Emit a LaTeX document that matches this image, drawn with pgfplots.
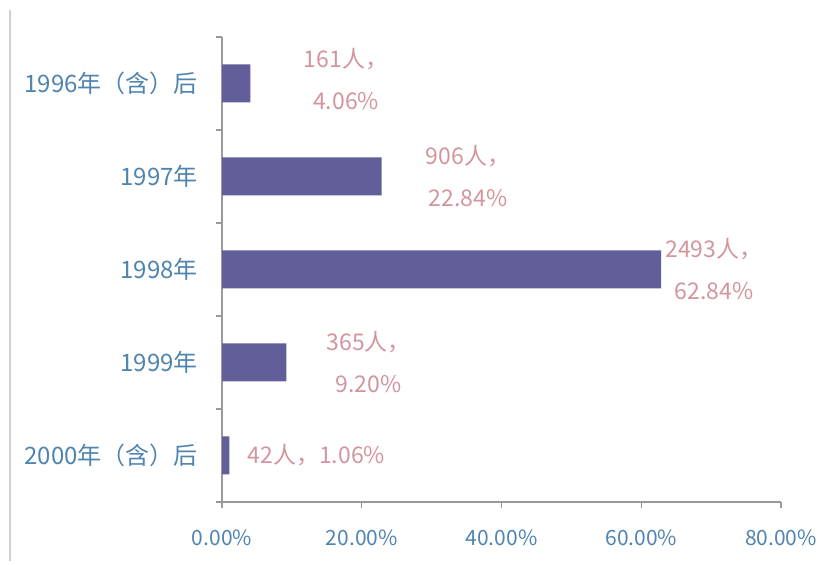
\documentclass[border=0pt]{standalone}
\usepackage{pgfplots}
\pgfplotsset{compat=1.18}
\usepackage{fontspec}
\setmainfont{Noto Sans CJK SC}
\definecolor{barc}{HTML}{615E9A}
\definecolor{labc}{HTML}{D2959D}
\definecolor{tickc}{HTML}{4F84B0}
\definecolor{axc}{HTML}{9A9A9A}
\begin{document}
\begin{tikzpicture}
\path[use as bounding box] (0,0) rectangle (411pt,282.5pt);
\draw[color=black!18, line width=0.8pt] (5pt,2pt) -- (5pt,277.5pt);
\begin{axis}[
  at={(111pt,31.5pt)}, anchor=south west,
  scale only axis, width=279.5pt, height=232.5pt,
  xmin=0, xmax=80, ymin=-0.5, ymax=4.5,
  axis lines*=left,
  axis line style={draw=axc, line width=0.6pt, -},
  tick align=outside,
  xtick={0,20,40,60,80},
  xticklabels={0.00\%,20.00\%,40.00\%,60.00\%,80.00\%},
  major tick length=3pt,
  tick style={draw=axc, line width=0.6pt},
  xticklabel style={font=\fontsize{10.5}{12}\selectfont, text=tickc, yshift=-7.5pt},
  ytick={-0.5,0.5,1.5,2.5,3.5,4.5},
  yticklabels={},
  extra y ticks={0,1,2,3,4},
  extra y tick labels={2000年（含）后,1999年,1998年,1997年,1996年（含）后},
  extra y tick style={major tick length=0pt, yticklabel style={font=\fontsize{12}{14}\selectfont, text=tickc, xshift=-8.5pt}},
  clip=false,
]
\addplot[xbar, bar width=19pt, fill=barc, draw=none] coordinates {
  (1.06,0) (9.20,1) (62.84,2) (22.84,3) (4.06,4)
};
\addplot[draw=none, mark=none,
  nodes near coords, point meta=explicit symbolic,
  every node near coord/.append style={anchor=center, align=center, text=labc, font=\fontsize{11.5}{21}\selectfont}]
coordinates {
  (13.5,0) [{42人，1.06\%}]
  (21.0,1) [{365人，\\9.20\%}]
  (70.4,2) [{2493人，\\62.84\%}]
  (35.2,3) [{906人，\\22.84\%}]
  (17.75,4.05) [{161人，\\4.06\%}]
};
\end{axis}
\end{tikzpicture}
\end{document}
